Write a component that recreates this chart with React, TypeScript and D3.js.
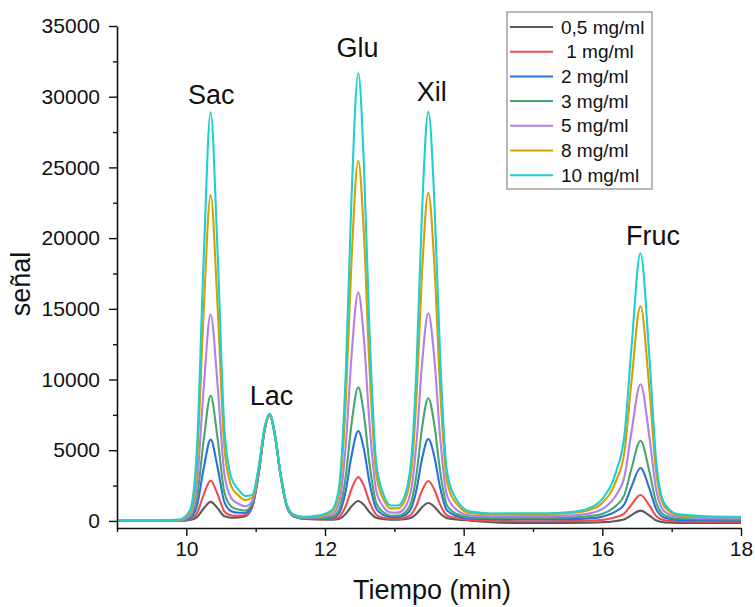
import React, { useRef, useEffect } from 'react';
import * as d3 from 'd3';

// retention time (min), shared by all series
const times = [
  9.0, 9.6, 9.9, 10.05, 10.15, 10.25, 10.35, 10.45, 10.55, 10.65,
  10.75, 10.85, 10.95, 11.05, 11.12, 11.2, 11.28, 11.35, 11.45, 11.55,
  11.7, 11.9, 12.1, 12.2, 12.3, 12.38, 12.48, 12.56, 12.64, 12.74,
  12.85, 12.95, 13.05, 13.15, 13.25, 13.32, 13.4, 13.49, 13.58, 13.66,
  13.76, 13.9, 14.1, 14.4, 14.8, 15.2, 15.5, 15.8, 16.0, 16.2,
  16.32, 16.42, 16.55, 16.68, 16.78, 16.9, 17.1, 17.5, 18.0,
];

const conc05 = [
  0, 0, 3, 69, 256, 878, 1350, 905, 328, 230,
  251, 336, 971, 3554, 6147, 7479, 5991, 3537, 1010, 304,
  134, 96, 92, 145, 499, 1016, 1410, 1138, 635, 220,
  122, 91, 91, 120, 243, 507, 974, 1269, 989, 540,
  193, 108, 23, -89, -144, -145, -141, -128, -93, 0,
  123, 413, 730, 378, 26, -110, -141, -147, -149,
];
const conc1 = [
  0, 0, 6, 112, 512, 1842, 2850, 1898, 666, 389,
  365, 420, 1024, 3585, 6165, 7490, 6000, 3548, 1023, 319,
  149, 118, 136, 273, 1063, 2218, 3100, 2492, 1367, 440,
  220, 152, 153, 217, 496, 1095, 2150, 2820, 2185, 1168,
  382, 190, 72, 14, -18, -18, -11, 17, 77, 274,
  536, 1155, 1830, 1080, 330, 39, -41, -54, -58,
];
const conc2 = [
  0, 0, 11, 185, 999, 3702, 5750, 3815, 1312, 688,
  576, 574, 1119, 3635, 6191, 7500, 6008, 3561, 1039, 336,
  171, 156, 216, 515, 2147, 4534, 6355, 5099, 2775, 860,
  406, 266, 266, 400, 979, 2218, 4402, 5790, 4475, 2370,
  742, 344, 168, 130, 114, 114, 127, 182, 304, 690,
  1204, 2417, 3740, 2270, 800, 230, 77, 51, 44,
];
const conc3 = [
  0, 0, 18, 263, 1519, 5689, 8850, 5865, 2002, 1007,
  803, 738, 1219, 3688, 6219, 7511, 6018, 3574, 1055, 355,
  191, 187, 287, 741, 3177, 6738, 9455, 7581, 4114, 1256,
  580, 370, 372, 573, 1444, 3307, 6593, 8680, 6703, 3536,
  1088, 489, 243, 214, 227, 227, 245, 328, 504, 1084,
  1858, 3681, 5670, 3460, 1250, 394, 155, 117, 106,
];
const conc5 = [
  10, 10, 39, 399, 2476, 9373, 14600, 9663, 3274, 1591,
  1214, 1034, 1398, 3782, 6267, 7532, 6033, 3593, 1080, 382,
  222, 248, 436, 1224, 5400, 11503, 16160, 12948, 7006, 2108,
  947, 589, 589, 930, 2405, 5567, 11140, 14680, 11325, 5954,
  1801, 785, 372, 325, 343, 342, 374, 516, 844, 1835,
  3156, 6272, 9670, 5894, 2118, 655, 274, 208, 189,
];
const conc8 = [
  20, 20, 66, 595, 3878, 14784, 23050, 15244, 5141, 2444,
  1814, 1464, 1655, 3911, 6329, 7551, 6045, 3613, 1108, 417,
  263, 327, 637, 1890, 8484, 18121, 25475, 20403, 11020, 3285,
  1452, 887, 889, 1428, 3766, 8771, 17595, 23200, 17889, 9385,
  2809, 1200, 544, 469, 489, 487, 539, 761, 1285, 2845,
  4924, 9824, 15170, 9230, 3290, 988, 399, 295, 265,
];
const conc10 = [
  40, 40, 98, 734, 4852, 18532, 28900, 19108, 6436, 3038,
  2232, 1766, 1838, 4012, 6387, 7582, 6068, 3637, 1132, 445,
  293, 384, 776, 2337, 10535, 22516, 31660, 25354, 13688, 4071,
  1793, 1090, 1093, 1768, 4686, 10936, 21952, 28950, 22319, 11703,
  3493, 1484, 658, 529, 543, 542, 606, 885, 1558, 3509,
  6110, 12241, 18930, 11498, 4066, 1186, 466, 336, 299,
];

const legendLabels = ['0,5 mg/ml', ' 1 mg/ml', '2 mg/ml', '3 mg/ml', '5 mg/ml', '8 mg/ml', '10 mg/ml'];
const colors = ['#5a5a5a', '#ee4d50', '#2b6fdc', '#43a86b', '#b47fe6', '#d6a000', '#1ccfd0'];
const seriesValues = [conc05, conc1, conc2, conc3, conc5, conc8, conc10];

// peak annotations: label, time of the label centre, signal at its baseline
const peakNames = ['Sac', 'Lac', 'Glu', 'Xil', 'Fruc'];
const peakLabelTimes = [10.36, 11.23, 12.47, 13.54, 16.73];
const peakLabelValues = [29500, 8200, 32800, 29700, 19500];

const xMajor = [10, 12, 14, 16, 18];
const xMinor = [9, 11, 13, 15, 17];
const yMajor = [0, 5000, 10000, 15000, 20000, 25000, 30000, 35000];
const yMinor = [2500, 7500, 12500, 17500, 22500, 27500, 32500];

const FONT = '"Liberation Sans", Arial, Helvetica, sans-serif';

const App = () => {
    const ref = useRef<SVGSVGElement>(null);

    useEffect(() => {
        const svg = d3.select(ref.current);
        svg.selectAll('*').remove();

        const x = d3.scaleLinear().domain([9, 18]).range([117, 741]);
        const y = d3.scaleLinear().domain([-500, 35000]).range([528, 26]);

        svg.append('defs').append('clipPath').attr('id', 'plotclip')
            .append('rect').attr('x', 117).attr('y', 0).attr('width', 626).attr('height', 528);

        const line = d3.line<number>()
            .x((d, i) => x(times[i]))
            .y(d => y(d))
            .curve(d3.curveMonotoneX);

        const lines = svg.append('g').attr('clip-path', 'url(#plotclip)');
        seriesValues.forEach((vals, i) => {
            lines.append('path')
                .datum(vals)
                .attr('fill', 'none')
                .attr('stroke', colors[i])
                .attr('stroke-width', 2.1)
                .attr('stroke-linejoin', 'round')
                .attr('d', line);
        });

        // x axis
        const gx = svg.append('g').attr('transform', 'translate(0,528)');
        gx.call(d3.axisBottom(x).tickValues(xMajor).tickSize(8).tickSizeOuter(0).tickPadding(5).tickFormat(d3.format('d')));
        gx.append('g').call(d3.axisBottom(x).tickValues(xMinor).tickSize(4).tickFormat(() => ''))
            .select('.domain').remove();

        // y axis
        const gy = svg.append('g').attr('transform', 'translate(117,0)');
        gy.call(d3.axisLeft(y).tickValues(yMajor).tickSize(8).tickSizeOuter(0).tickPadding(9).tickFormat(d3.format('d')));
        gy.append('g').call(d3.axisLeft(y).tickValues(yMinor).tickSize(4).tickFormat(() => ''))
            .select('.domain').remove();

        svg.selectAll('.domain').attr('stroke', '#111').attr('stroke-width', 1.6);
        svg.selectAll('.tick line').attr('stroke', '#111').attr('stroke-width', 1.4);
        svg.selectAll('.tick text').attr('font-family', FONT).attr('font-size', 21).attr('fill', '#111');
        gx.attr('font-family', FONT);
        gy.attr('font-family', FONT);

        // axis titles
        svg.append('text')
            .attr('x', 432).attr('y', 599)
            .attr('text-anchor', 'middle')
            .attr('font-family', FONT).attr('font-size', 27).attr('fill', '#111')
            .text('Tiempo (min)');
        svg.append('text')
            .attr('transform', 'translate(30,284) rotate(-90)')
            .attr('text-anchor', 'middle')
            .attr('font-family', FONT).attr('font-size', 27).attr('fill', '#111')
            .text('señal');

        // peak labels
        peakNames.forEach((name, i) => {
            svg.append('text')
                .attr('x', x(peakLabelTimes[i]))
                .attr('y', y(peakLabelValues[i]))
                .attr('text-anchor', 'middle')
                .attr('font-family', FONT).attr('font-size', 27).attr('fill', '#111')
                .text(name);
        });

        // legend
        const lg = svg.append('g');
        lg.append('rect')
            .attr('x', 507).attr('y', 12).attr('width', 145).attr('height', 177)
            .attr('fill', 'white').attr('stroke', '#8a8a8a').attr('stroke-width', 1.2);
        legendLabels.forEach((lab, i) => {
            const yy = 27 + i * 24.7;
            lg.append('line')
                .attr('x1', 510).attr('x2', 553).attr('y1', yy).attr('y2', yy)
                .attr('stroke', colors[i]).attr('stroke-width', 2);
            lg.append('text')
                .attr('x', 561).attr('y', yy + 6.5)
                .attr('font-family', FONT).attr('font-size', 19).attr('fill', '#111')
                .style('white-space', 'pre')
                .text(lab);
        });
    }, []);

    return (
        <svg ref={ref} width="755" height="607"
            style={{ position: 'absolute', left: 0, top: 0, background: 'white' }}></svg>
    );
};

export default App;
